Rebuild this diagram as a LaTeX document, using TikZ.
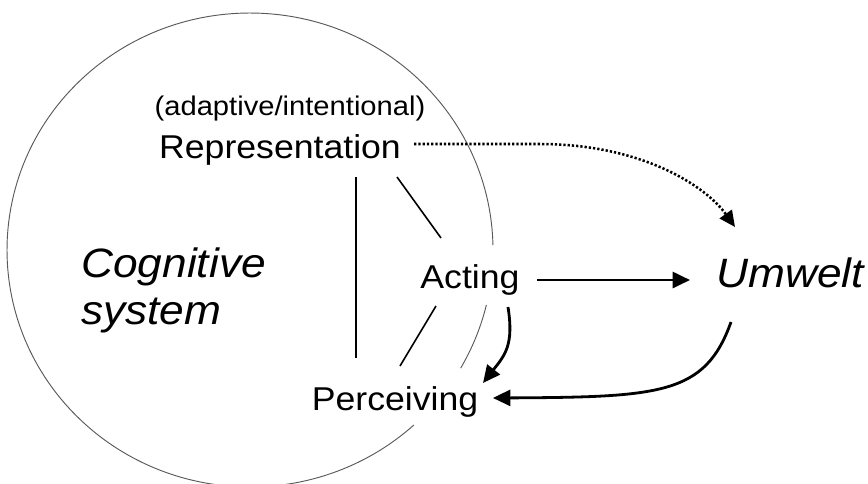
\documentclass[tikz,border=0pt]{standalone}
\usepackage{fontspec}
\setmainfont{Liberation Sans}[FakeStretch=1.08]
\usetikzlibrary{arrows.meta}
\begin{document}
\begin{tikzpicture}[x=0.75pt,y=-0.75pt,
  circ/.style={line width=0.7pt, black!65},
  lbl/.style={inner sep=0pt, font=\fontsize{24.75}{29}\selectfont},
  small/.style={inner sep=0pt, font=\fontsize{20.25}{24}\selectfont},
  ital/.style={inner sep=0pt, font=\fontsize{30.75}{35.25}\selectfont\itshape},
  link/.style={line width=1.2pt},
  arr/.style={line width=2.1pt, -{Triangle[length=13pt,width=12pt]}},
  dotarr/.style={line width=1.9pt, dash pattern=on 1.7pt off 1.5pt, -{Triangle[length=12pt,width=11pt]}}
]
\useasboundingbox (0,0) rectangle (868,483);
% the cognitive system (ellipse, broken behind the labels)
\draw[circ] ([shift={(47.6:243 and 237)}]250,250) arc[start angle=47.6, end angle=358.8, x radius=243, y radius=237];
\draw[circ] ([shift={(13.4:243 and 237)}]250,250) arc[start angle=13.4, end angle=29.9, x radius=243, y radius=237];
% labels
\node[small, anchor=base] (adapt) at (290,115) {(adaptive/intentional)};
\node[lbl, anchor=base] (rep) at (280,158) {Representation};
\node[lbl, anchor=base] (act) at (470,288) {Acting};
\node[lbl, anchor=base] (perc) at (395,410) {Perceiving};
\node[ital, anchor=base] (umw) at (790,287) {Umwelt};
\node[ital, anchor=base west] (cog) at (81,277) {\begin{tabular}[t]{@{}l@{}}Cognitive\\system\end{tabular}};
% plain links
\draw[link] ([shift={(76,19)}]rep.base) -- ([shift={(-39,-52)}]perc.base);
\draw[link] ([shift={(117,19)}]rep.base) -- ([shift={(-29,-50)}]act.base);
\draw[link] ([shift={(-34,18)}]act.base) -- ([shift={(5,-44)}]perc.base);
% arrows
\draw[dotarr] ([shift={(134,-14)}]rep.base) -- (540,144) .. controls (640,144) and (705,185) .. ([shift={(-55,-60)}]umw.base);
\draw[arr] ([shift={(67,-8)}]act.base) -- ([shift={(-100,-7)}]umw.base);
\draw[arr] ([shift={(-59,35)}]umw.base) .. controls (705,395) and (660,397) .. ([shift={(98,-12)}]perc.base);
\draw[arr] ([shift={(38,19)}]act.base) .. controls (514,345) and (505,355) .. ([shift={(88,-27)}]perc.base);
\end{tikzpicture}
\end{document}
